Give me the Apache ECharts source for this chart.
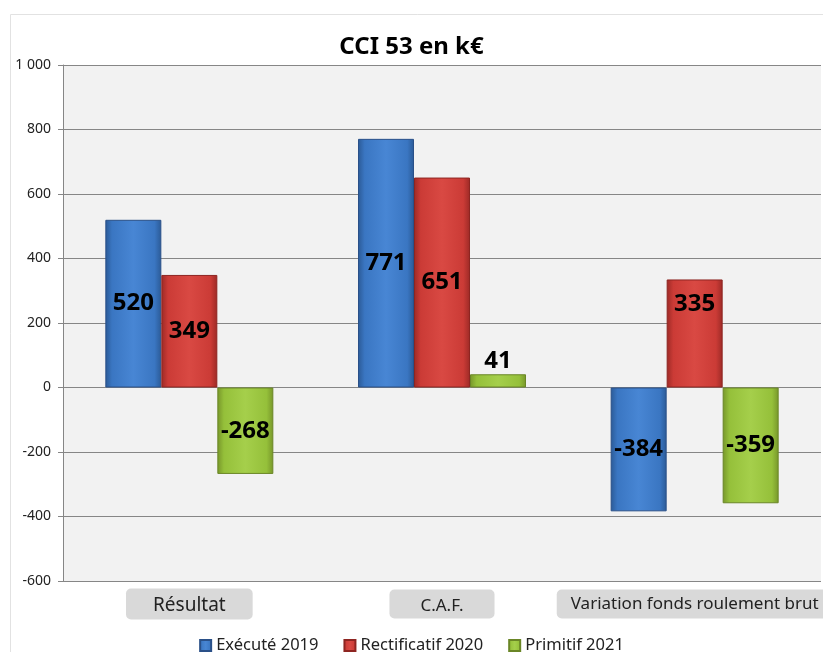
<!DOCTYPE html>
<html>
<head>
<meta charset="utf-8">
<script src="https://cdn.jsdelivr.net/npm/echarts@6/dist/echarts.min.js"></script>
<style>html,body{margin:0;padding:0;background:#fff}#c{width:823px;height:652px}</style>
</head>
<body>
<div id="c"></div>
<script>
var categories = ['Résultat', 'C.A.F.', 'Variation fonds roulement brut'];
var seriesNames = ['Exécuté 2019', 'Rectificatif 2020', 'Primitif 2021'];
var execute2019 = [520, 771, -384];
var rectificatif2020 = [349, 651, 335];
var primitif2021 = [-268, 41, -359];
var yTicks = { min: -600, max: 1000, interval: 200 };

var FONT = 'Noto Sans';
function grad(dark, mid, light) {
  return new echarts.graphic.LinearGradient(0, 0, 1, 0, [
    { offset: 0, color: dark },
    { offset: 0.12, color: mid },
    { offset: 0.5, color: light },
    { offset: 0.88, color: mid },
    { offset: 1, color: dark }
  ]);
}
var styles = [
  { color: grad('#2b5a96', '#3a76c2', '#4886d4'), border: '#2a5088' },
  { color: grad('#9c2a26', '#cb3b36', '#d94943'), border: '#8e2521' },
  { color: grad('#77962a', '#95c03a', '#a5cf4b'), border: '#6a8626' }
];
var values = [execute2019, rectificatif2020, primitif2021];
// label overrides (series index -> data index -> label opts)
var overrides = {
  '1-2': { position: 'insideTop', distance: 13 },
  '2-1': { position: 'top', distance: 1 }
};

var series = values.map(function (arr, si) {
  return {
    name: seriesNames[si],
    type: 'bar',
    barWidth: 56,
    barGap: '0%',
    itemStyle: { color: styles[si].color, borderColor: styles[si].border, borderWidth: 1 },
    label: {
      show: true, position: 'inside', color: '#000', fontFamily: FONT,
      fontWeight: 'bold', fontSize: 24
    },
    data: arr.map(function (v, di) {
      var o = overrides[si + '-' + di];
      return o ? { value: v, label: o } : v;
    })
  };
});

var chart = echarts.init(document.getElementById('c'));
chart.setOption({
  animation: false,
  backgroundColor: '#fff',
  title: {
    text: 'CCI 53 en k€', left: 'center', top: 30,
    textStyle: { fontFamily: FONT, fontWeight: 'bold', fontSize: 24, color: '#000' }
  },
  graphic: [{
    type: 'rect', z: -1, silent: true,
    shape: { x: 10.5, y: 14.5, width: 840, height: 700 },
    style: { fill: 'none', stroke: '#e2e2e2', lineWidth: 1 }
  }],
  legend: {
    data: seriesNames, top: 632, left: 'center', icon: 'rect',
    itemWidth: 11, itemHeight: 11, itemGap: 25,
    textStyle: { fontFamily: FONT, fontSize: 16.5, color: '#222' }
  },
  grid: {
    left: 63, right: 2, top: 65, bottom: 71, show: true,
    outerBoundsMode: 'none', containLabel: false,
    backgroundColor: '#f2f2f2', borderWidth: 0
  },
  xAxis: {
    type: 'category', data: categories,
    axisLine: { show: false, onZero: false },
    axisTick: { show: false },
    axisLabel: {
      interval: 0, margin: 12, hideOverlap: false,
      formatter: function (v, i) { return '{k' + i + '|' + v + '}'; },
      rich: {
        k0: { fontFamily: FONT, fontSize: 19, color: '#222', backgroundColor: '#d9d9d9', borderRadius: 5, padding: [8, 27, 4, 27], lineHeight: 22 },
        k1: { fontFamily: FONT, fontSize: 17, color: '#222', backgroundColor: '#d9d9d9', borderRadius: 5, padding: [8, 31, 4, 31], lineHeight: 22 },
        k2: { fontFamily: FONT, fontSize: 17, color: '#222', backgroundColor: '#d9d9d9', borderRadius: 5, padding: [6, 14, 6, 14], lineHeight: 22 }
      }
    }
  },
  yAxis: {
    type: 'value', min: yTicks.min, max: yTicks.max, interval: yTicks.interval,
    axisLine: { show: true, lineStyle: { color: '#868686' } },
    axisTick: { show: true, length: 5, lineStyle: { color: '#868686' } },
    axisLabel: {
      margin: 12, fontFamily: FONT, fontSize: 14, color: '#222',
      formatter: function (v) { return Math.abs(v) >= 1000 ? String(v).replace(/(\d)(\d{3})$/, '$1 $2') : String(v); }
    },
    splitLine: { lineStyle: { color: '#868686', width: 1 } }
  },
  series: series
});
</script>
</body>
</html>
